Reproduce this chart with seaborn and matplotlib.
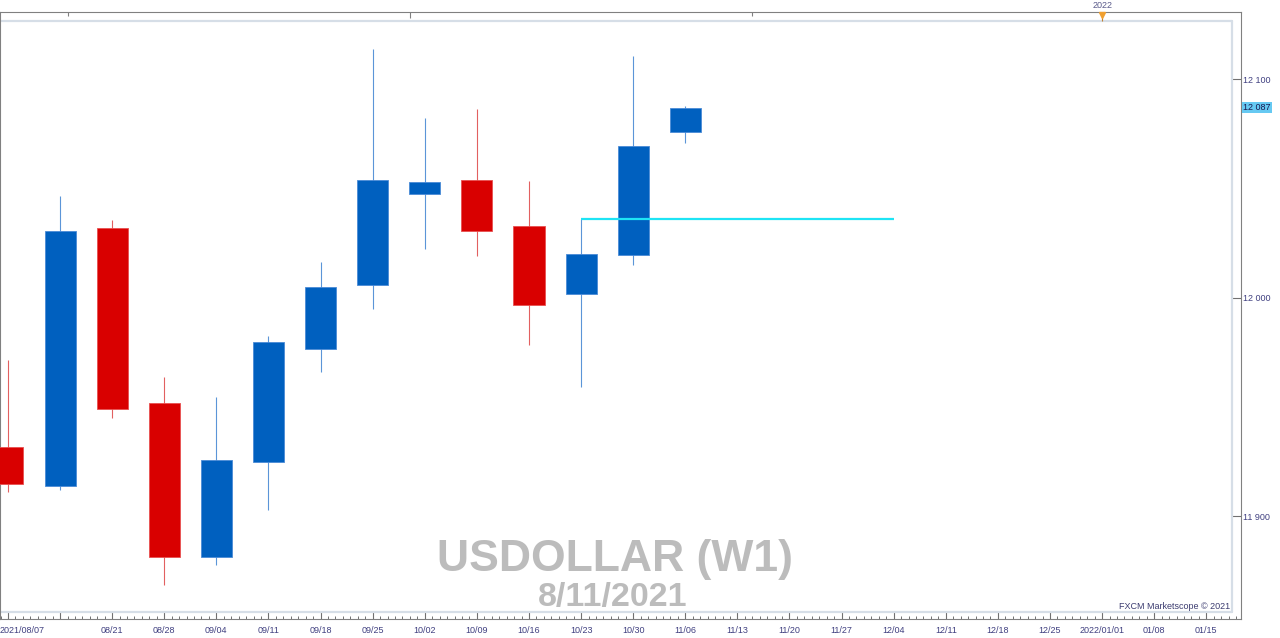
import numpy as np
import pandas as pd
import seaborn as sns
import matplotlib.pyplot as plt
from matplotlib.ticker import FixedLocator, MultipleLocator
from matplotlib.transforms import ScaledTranslation

sns.set_theme(style="white")
plt.rcParams["font.family"] = ["Liberation Sans", "DejaVu Sans"]

# Weekly USDOLLAR candles
weeks = ["2021-08-07", "2021-08-14", "2021-08-21", "2021-08-28", "2021-09-04",
         "2021-09-11", "2021-09-18", "2021-09-25", "2021-10-02", "2021-10-09",
         "2021-10-16", "2021-10-23", "2021-10-30", "2021-11-06"]
opens = [11931.8, 11913.8, 12031.8, 11951.7, 11881.5, 11924.7, 11976.7,
         12005.7, 12047.5, 12053.7, 12032.7, 12001.7, 12019.7, 12075.8]
highs = [11971.5, 12046.5, 12035.6, 11963.6, 11954.4, 11982.6, 12016.5,
         12113.8, 12082.1, 12086.2, 12053.4, 12036.0, 12110.8, 12087.6]
lows = [11911.1, 11912.0, 11944.8, 11868.5, 11877.8, 11902.8, 11965.9,
        11995.0, 12022.2, 12019.1, 11978.2, 11959.0, 12015.1, 12070.9]
closes = [11914.7, 12030.7, 11948.9, 11881.5, 11925.7, 11979.9, 12004.9,
          12053.7, 12052.8, 12030.7, 11996.8, 12019.9, 12069.6, 12087.0]

# horizontal level drawn on the chart
level_price = 12036.0
level_span = ["2021-10-23", "2021-12-04"]
last_price = 12087

# axis ticks
tick_dates = pd.date_range("2021-08-07", "2022-01-15", freq="7D")
tick_labels = ["2021/08/07", "", "08/21", "08/28", "09/04", "09/11", "09/18",
               "09/25", "10/02", "10/09", "10/16", "10/23", "10/30", "11/06",
               "11/13", "11/20", "11/27", "12/04", "12/11", "12/18", "12/25",
               "2022/01/01", "01/08", "01/15"]
price_ticks = [11900, 12000, 12100]
price_labels = ["11 900", "12 000", "12 100"]
top_marks = ["2021-08-15", "2021-09-30", "2021-11-15"]
year_mark = "2022-01-01"

start = pd.Timestamp(weeks[0])
def day_pos(d):
    return (pd.to_datetime(d) - start) / pd.Timedelta(days=1)

df = pd.DataFrame({"x": day_pos(weeks), "open": opens, "high": highs,
                   "low": lows, "close": closes})
df["up"] = df["close"] >= df["open"]

BLUE, RED = "#0060bf", "#d90000"
BLUE_W, RED_W = "#5b95d8", "#e26060"
TXT = "#404080"

fig = plt.figure(figsize=(12.8, 6.38), dpi=100)
ax = fig.add_axes([0, 19 / 638, 1241 / 1280, 607 / 638])
ax.set_facecolor("white")

# wicks
ax.vlines(df["x"], df["low"], df["high"],
          colors=np.where(df["up"], BLUE_W, RED_W), linewidth=0.8, zorder=2)
# bodies
body_bottom = df[["open", "close"]].min(axis=1)
body_height = (df["close"] - df["open"]).abs()
ax.bar(df["x"], body_height, bottom=body_bottom, width=4.17,
       color=np.where(df["up"], BLUE, RED),
       edgecolor=np.where(df["up"], "#4a8ad6", "#e85050"),
       linewidth=0.6, zorder=3)

# level line
lx = day_pos(level_span)
ax.hlines(level_price, lx[0], lx[1], color="#1ee4f5", linewidth=1.6, zorder=4)

ax.set_xlim(-1.07, 165.66)
ax.set_ylim(11852.95, 12130.75)

# inner light frame
frame_kw = dict(color="#d6dee7", linewidth=1.6, transform=ax.transAxes, zorder=1)
ax.plot([0, 0.99275], [0.9852, 0.9852], **frame_kw)
ax.plot([0, 0.99275], [0.0115, 0.0115], **frame_kw)
ax.plot([0.99275, 0.99275], [0.0115, 0.9852], **frame_kw)

for s in ax.spines.values():
    s.set_color("#808080")
    s.set_linewidth(0.8)

# x axis
ax.xaxis.set_major_locator(FixedLocator(day_pos(tick_dates)))
ax.xaxis.set_minor_locator(MultipleLocator(1))
ax.set_xticklabels(tick_labels)
ax.tick_params(axis="x", which="major", direction="in", length=5.5, width=0.8,
               color="#707070", pad=5, labelsize=6.5, labelcolor=TXT, bottom=True)
ax.tick_params(axis="x", which="minor", direction="in", length=2.4, width=0.7,
               color="#707070", bottom=True)
first = ax.get_xticklabels()[0]
first.set_horizontalalignment("left")
first.set_transform(first.get_transform() +
                    ScaledTranslation(-8 / 100, 0, fig.dpi_scale_trans))

# y axis on the right
ax.yaxis.tick_right()
ax.set_yticks(price_ticks)
ax.set_yticklabels(price_labels)
ax.tick_params(axis="y", direction="in", length=6.5, width=0.8, color="#707070",
               pad=1.5, labelsize=6.5, labelcolor=TXT, right=True, left=False)
ax.grid(False)

ax.annotate(f"{last_price:,}".replace(",", " "), xy=(1, last_price),
            xycoords=("axes fraction", "data"), xytext=(1.5, 0),
            textcoords="offset points", ha="left", va="center",
            fontsize=6.5, color="#1a1a50",
            bbox=dict(boxstyle="square,pad=0.12", fc="#66c9f2", ec="none"))

# small marks on top edge
top_tr = ax.get_xaxis_transform()
ax.vlines(day_pos(top_marks), [0.994, 0.99, 0.994], 1.0, colors="#808080",
          linewidth=0.8, transform=top_tr, clip_on=False)

# year marker
yx = day_pos(year_mark)
ax.vlines(yx, 0.985, 1.0, colors="#c08030", linewidth=0.8, transform=top_tr,
          clip_on=False)
ax.plot([yx], [0.9955], marker="v", markersize=5, color="#f0a030",
        transform=top_tr, clip_on=False, zorder=6)
ax.annotate("2022", xy=(yx, 1.0), xycoords=top_tr, xytext=(0, 4.5),
            textcoords="offset points", ha="center", va="center",
            fontsize=6.5, color="#5a5a8a", annotation_clip=False)

# watermark
ax.text(0.4959, 0.0783, "USDOLLAR (W1)", transform=ax.transAxes, ha="center",
        va="baseline", fontsize=32, fontweight="bold", color="#bcbcbc", zorder=1)
ax.text(0.4935, 0.0222, "8/11/2021", transform=ax.transAxes, ha="center",
        va="baseline", fontsize=24.5, fontweight="bold", color="#bcbcbc", zorder=1)

ax.text(0.9911, 0.0198, "FXCM Marketscope \u00a9 2021", transform=ax.transAxes,
        ha="right", va="center", fontsize=6.5, color="#3c3c70")

fig.savefig("out.png", dpi=100)
plt.close(fig)
